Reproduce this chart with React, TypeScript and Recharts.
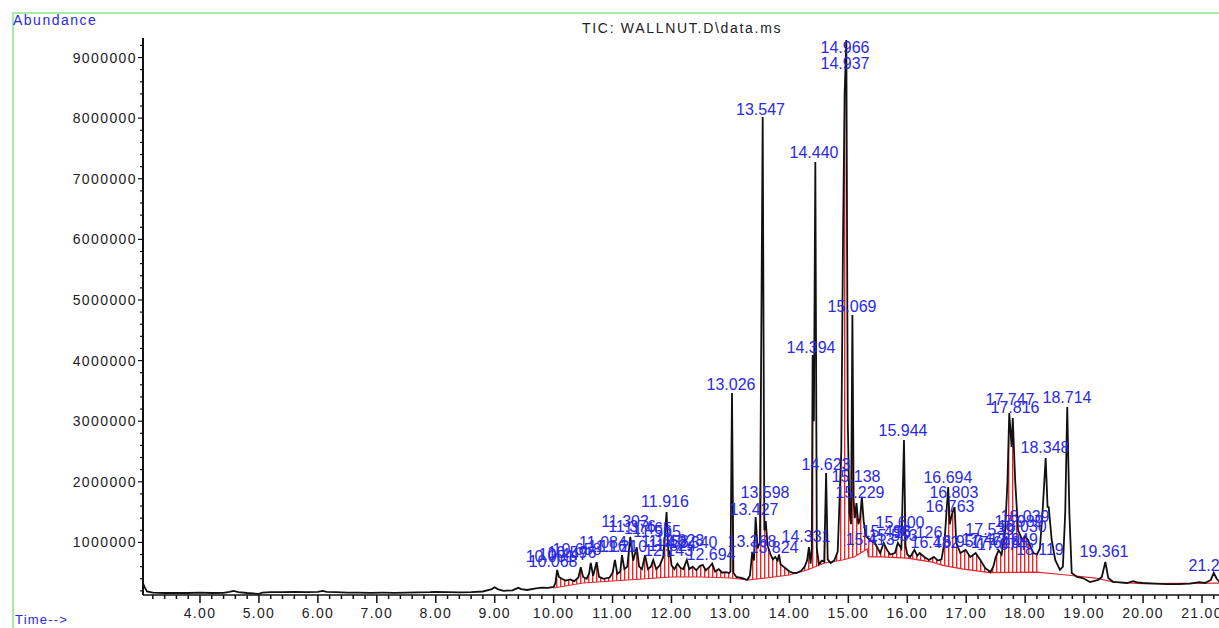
import { Area, ComposedChart, Line, Scatter, XAxis, YAxis } from "recharts";

// TIC trace: [retention time (min), abundance]
const ticTrace: [number, number][] = [
  [3.033, 330000], [3.06, 260000], [3.1, 190000], [3.2, 170000], [3.4, 165000], [3.6, 168000],
  [3.8, 165000], [4.0, 170000], [4.2, 165000], [4.4, 168000], [4.5, 185000], [4.57, 200000],
  [4.65, 180000], [4.8, 165000], [5.0, 150000], [5.06, 170000], [5.2, 178000], [5.4, 180000],
  [5.6, 182000], [5.8, 178000], [6.0, 185000], [6.08, 200000], [6.15, 182000], [6.3, 178000],
  [6.5, 172000], [6.7, 170000], [6.9, 168000], [7.1, 170000], [7.3, 168000], [7.5, 172000],
  [7.7, 175000], [7.9, 180000], [8.0, 185000], [8.2, 178000], [8.4, 175000], [8.6, 180000],
  [8.8, 190000], [8.95, 230000], [9.0, 260000], [9.05, 230000], [9.15, 200000], [9.3, 210000],
  [9.4, 250000], [9.45, 230000], [9.55, 215000], [9.7, 240000], [9.8, 255000], [9.9, 250000],
  [10.0, 265000], [10.03, 330000], [10.06, 545000], [10.09, 430000], [10.14, 400000], [10.2, 370000],
  [10.28, 390000], [10.35, 360000], [10.42, 420000], [10.46, 590000], [10.5, 430000], [10.56, 400000],
  [10.6, 480000], [10.63, 660000], [10.67, 450000], [10.73, 676000], [10.77, 430000], [10.85, 400000],
  [10.95, 420000], [11.0, 500000], [11.04, 710000], [11.08, 480000], [11.13, 520000], [11.16, 790000],
  [11.2, 560000], [11.25, 600000], [11.3, 1090000], [11.35, 700000], [11.41, 920000], [11.45, 600000],
  [11.5, 560000], [11.55, 790000], [11.6, 560000], [11.65, 600000], [11.69, 710000], [11.74, 560000],
  [11.8, 620000], [11.86, 760000], [11.916, 1500000], [11.95, 760000], [11.97, 870000], [12.0, 620000],
  [12.05, 560000], [12.1, 650000], [12.15, 580000], [12.2, 560000], [12.26, 710000], [12.3, 560000],
  [12.36, 600000], [12.42, 540000], [12.48, 610000], [12.53, 630000], [12.58, 540000], [12.64, 590000],
  [12.69, 650000], [12.74, 520000], [12.8, 560000], [12.86, 500000], [12.92, 510000], [12.98, 495000],
  [13.0, 520000], [13.026, 3465000], [13.05, 500000], [13.1, 430000], [13.2, 410000], [13.28, 380000],
  [13.33, 450000], [13.368, 825000], [13.4, 700000], [13.427, 1420000], [13.46, 900000], [13.5, 1000000],
  [13.547, 8020000], [13.575, 1200000], [13.598, 1350000], [13.63, 950000], [13.68, 800000], [13.72, 720000],
  [13.76, 760000], [13.8, 700000], [13.824, 800000], [13.85, 640000], [13.9, 600000], [13.95, 560000],
  [14.0, 520000], [14.05, 500000], [14.12, 495000], [14.2, 530000], [14.26, 600000], [14.3, 700000],
  [14.331, 924000], [14.36, 650000], [14.38, 900000], [14.394, 4090000], [14.415, 3000000], [14.44, 7276000],
  [14.465, 900000], [14.5, 640000], [14.55, 700000], [14.59, 680000], [14.623, 2145000], [14.65, 720000],
  [14.7, 660000], [14.76, 700000], [14.82, 850000], [14.88, 2500000], [14.91, 6000000], [14.937, 8400000],
  [14.966, 9290000], [14.99, 3000000], [15.02, 1500000], [15.045, 1300000], [15.069, 4752000], [15.09, 1700000],
  [15.11, 1400000], [15.138, 1650000], [15.17, 1300000], [15.2, 1400000], [15.229, 1750000], [15.26, 1350000],
  [15.3, 1100000], [15.37, 1040000], [15.45, 990000], [15.5, 900000], [15.54, 825000], [15.6, 990000],
  [15.66, 870000], [15.71, 800000], [15.79, 825000], [15.84, 990000], [15.9, 900000], [15.944, 2690000],
  [15.97, 950000], [16.0, 800000], [16.05, 760000], [16.12, 875000], [16.17, 780000], [16.21, 825000],
  [16.29, 760000], [16.37, 710000], [16.45, 760000], [16.52, 700000], [16.58, 720000], [16.63, 990000],
  [16.694, 1914000], [16.72, 1300000], [16.763, 1485000], [16.803, 1584000], [16.83, 1000000], [16.86, 924000],
  [16.9, 825000], [16.99, 875000], [17.07, 760000], [17.16, 825000], [17.24, 710000], [17.32, 578000],
  [17.41, 511000], [17.46, 600000], [17.5, 760000], [17.55, 870000], [17.6, 800000], [17.66, 1200000],
  [17.7, 2000000], [17.73, 3135000], [17.77, 2574000], [17.79, 3052000], [17.83, 2029000], [17.88, 1204000],
  [17.95, 1040000], [18.0, 1100000], [18.05, 1040000], [18.1, 900000], [18.14, 825000], [18.2, 800000],
  [18.25, 900000], [18.3, 1584000], [18.348, 2392000], [18.38, 1584000], [18.4, 1580000], [18.45, 1040000],
  [18.51, 710000], [18.59, 545000], [18.64, 600000], [18.68, 1500000], [18.714, 3234000], [18.75, 1485000],
  [18.79, 495000], [18.88, 429000], [18.98, 412000], [19.1, 346000], [19.24, 380000], [19.3, 429000],
  [19.361, 676000], [19.41, 412000], [19.49, 350000], [19.6, 340000], [19.73, 330000], [19.83, 360000],
  [19.9, 340000], [20.0, 330000], [20.2, 320000], [20.4, 313000], [20.6, 313000], [20.8, 320000],
  [20.95, 345000], [21.05, 330000], [21.15, 380000], [21.2, 495000], [21.25, 400000], [21.3, 345000],
  [21.45, 340000], [21.645, 345000],
];

// integration baseline drawn in red
const integrationBaseline: [number, number][] = [
  [10.0, 247500], [10.5, 330000], [11.0, 363000], [11.5, 396000], [12.0, 429000], [12.5, 429000],
  [13.0, 412500], [13.3, 379500], [13.6, 412500], [14.0, 462000], [14.3, 544500], [14.6, 660000],
  [14.9, 709500], [15.1, 759000], [15.32, 890000], [15.34, 760000], [15.55, 760000], [16.0, 740000],
  [16.4, 680000], [16.6, 620000], [16.95, 560000], [17.4, 500000], [18.2, 510000], [18.7, 462000],
  [19.2, 412000], [19.5, 346000], [20.0, 320000], [21.4, 330000],
];

// peak labels: [text, label time, label abundance]
const peakLabels: [string, number, number][] = [
  ["14.966", 14.943, 9075000], ["14.937", 14.943, 8811000], ["13.547", 13.51, 8052000],
  ["14.440", 14.417, 7342500], ["15.069", 15.062, 4801500], ["14.394", 14.366, 4125000],
  ["13.026", 13.009, 3514500], ["15.944", 15.927, 2755500], ["17.747", 17.743, 3267000],
  ["17.816", 17.828, 3135000], ["18.714", 18.71, 3300000], ["18.348", 18.337, 2475000],
  ["19.361", 19.338, 759000], ["21.249", 21.187, 528000], ["14.623", 14.621, 2194500],
  ["15.138", 15.13, 1996500], ["15.229", 15.198, 1732500], ["13.598", 13.586, 1732500],
  ["13.427", 13.4, 1452000], ["13.368", 13.366, 924000], ["13.824", 13.739, 825000],
  ["14.331", 14.282, 1006500], ["11.916", 11.889, 1584000], ["11.303", 11.211, 1254000],
  ["11.376", 11.33, 1171500], ["11.565", 11.754, 1089000], ["11.465", 11.6, 1138000],
  ["11.161", 10.99, 841500], ["11.084", 10.837, 907500], ["11.658", 11.89, 924000],
  ["11.824", 12.01, 858000], ["12.023", 12.14, 940500], ["12.340", 12.364, 907500],
  ["12.694", 12.67, 709500], ["12.143", 11.95, 775500], ["10.658", 10.396, 792000],
  ["10.596", 10.31, 742500], ["10.447", 10.16, 709500], ["10.051", 9.94, 676500],
  ["10.068", 9.99, 594000], ["11.210", 11.18, 841500], ["15.498", 15.64, 1089000],
  ["15.600", 15.876, 1237500], ["15.553", 15.76, 1023000], ["16.126", 16.18, 1072500],
  ["16.482", 16.47, 907500], ["16.957", 16.86, 924000], ["16.694", 16.69, 1980000],
  ["16.803", 16.79, 1732500], ["16.763", 16.725, 1501500], ["17.539", 17.4, 1122000],
  ["17.478", 17.335, 957000], ["17.616", 17.49, 907500], ["17.874", 17.6, 874500],
  ["18.039", 17.997, 1336500], ["17.989", 17.896, 1254000], ["18.030", 17.95, 1171500],
  ["18.119", 18.25, 792000], ["17.949", 17.8, 957000], ["15.413", 15.37, 957000],
];

const yTickLabels = [1000000, 2000000, 3000000, 4000000, 5000000, 6000000, 7000000, 8000000, 9000000];
const xTickLabels = [4, 5, 6, 7, 8, 9, 10, 11, 12, 13, 14, 15, 16, 17, 18, 19, 20, 21];

const traceData = ticTrace.map(([t, v]) => ({ t, v }));
const hatchData = traceData.filter((d) => d.t >= 10 && d.t <= 18.25);
const baselineData = integrationBaseline.map(([t, v]) => ({ t, v }));
const labelData = peakLabels.map(([label, t, v]) => ({ label, t, v }));

const xTicks: number[] = [];
for (let i = 16; i <= 108; i++) xTicks.push(Math.round(i * 2) / 10);
const yTicks: number[] = [];
for (let i = 1; i <= 46; i++) yTicks.push(i * 200000);

const FONT = '"Liberation Sans", Arial, sans-serif';
const BLUE = "#2a2ae6";
const RED = "#e8262a";

function TimeTick(props: any) {
  const { x, y, payload } = props;
  const v = payload.value as number;
  const major = xTickLabels.some((m) => Math.abs(m - v) < 0.001);
  return (
    <g>
      <line x1={x} x2={x} y1={y} y2={y + (major ? 8 : 4)} stroke="#111" strokeWidth={1.5} />
      {major && (
        <text x={x} y={y + 23} textAnchor="middle" fontFamily={FONT} fontSize={14} letterSpacing={1.3} fill="#222">
          {v.toFixed(2)}
        </text>
      )}
    </g>
  );
}

function AbundanceTick(props: any) {
  const { x, y, payload } = props;
  const v = payload.value as number;
  const major = yTickLabels.includes(v);
  return (
    <g>
      <line x1={x} x2={x - (major ? 5 : 3)} y1={y} y2={y} stroke="#111" strokeWidth={1.2} />
      {major && (
        <text x={x - 6} y={y + 5} textAnchor="end" fontFamily={FONT} fontSize={14} letterSpacing={1.4} fill="#222">
          {v}
        </text>
      )}
    </g>
  );
}

function PeakLabel(props: any) {
  const { cx, cy, payload } = props;
  return (
    <text x={cx} y={cy} textAnchor="middle" fontFamily={FONT} fontSize={16} fill={BLUE}>
      {payload.label}
    </text>
  );
}

export default function App() {
  return (
    <div
      style={{
        position: "absolute",
        left: 0,
        top: 0,
        width: 1219,
        height: 628,
        overflow: "hidden",
        background: "#fff",
        fontFamily: FONT,
      }}
    >
      <div
        style={{
          position: "absolute",
          left: 12,
          top: 12,
          width: 1400,
          height: 800,
          borderTop: "2px solid #a6eca6",
          borderLeft: "2px solid #a6eca6",
        }}
      />
      <div style={{ position: "absolute", left: 0, top: 0 }}>
        <ComposedChart width={1240} height={628} margin={{ top: 38, right: 0, bottom: 0, left: 13 }}>
          <defs>
            <pattern id="hatch" width={4} height={10} patternUnits="userSpaceOnUse">
              <rect x={0} y={0} width={1.4} height={10} fill={RED} />
            </pattern>
          </defs>
          <XAxis
            dataKey="t"
            type="number"
            domain={[3.033, 21.645]}
            allowDataOverflow
            ticks={xTicks}
            interval={0}
            tickSize={0}
            tickMargin={0}
            tickLine={false}
            tick={<TimeTick />}
            height={33}
            axisLine={{ stroke: "#111", strokeWidth: 1.5 }}
          />
          <YAxis
            type="number"
            domain={[132000, 9322500]}
            allowDataOverflow
            ticks={yTicks}
            interval={0}
            tickSize={0}
            tickMargin={0}
            tickLine={false}
            tick={<AbundanceTick />}
            width={130}
            axisLine={{ stroke: "#111", strokeWidth: 2 }}
          />
          <Area
            data={hatchData}
            dataKey="v"
            type="linear"
            baseValue={200000}
            stroke="none"
            fill="url(#hatch)"
            fillOpacity={1}
            dot={false}
            activeDot={false}
            isAnimationActive={false}
          />
          <Area
            data={baselineData}
            dataKey="v"
            type="linear"
            baseValue={200000}
            stroke={RED}
            strokeWidth={1.2}
            fill="#fff"
            fillOpacity={1}
            dot={false}
            activeDot={false}
            isAnimationActive={false}
          />
          <Line
            data={traceData}
            dataKey="v"
            type="linear"
            stroke="#111"
            strokeWidth={1.8}
            dot={false}
            activeDot={false}
            isAnimationActive={false}
          />
          <Scatter data={labelData} dataKey="v" shape={<PeakLabel />} isAnimationActive={false} />
        </ComposedChart>
      </div>
      <div style={{ position: "absolute", left: 13, top: 12, fontSize: 14, letterSpacing: 1.5, color: BLUE }}>
        Abundance
      </div>
      <div style={{ position: "absolute", left: 582, top: 20, fontSize: 14, letterSpacing: 1.7, color: "#222" }}>
        TIC: WALLNUT.D\data.ms
      </div>
      <div style={{ position: "absolute", left: 15, top: 612, fontSize: 13, letterSpacing: 1.2, color: BLUE }}>
        Time--&gt;
      </div>
    </div>
  );
}
